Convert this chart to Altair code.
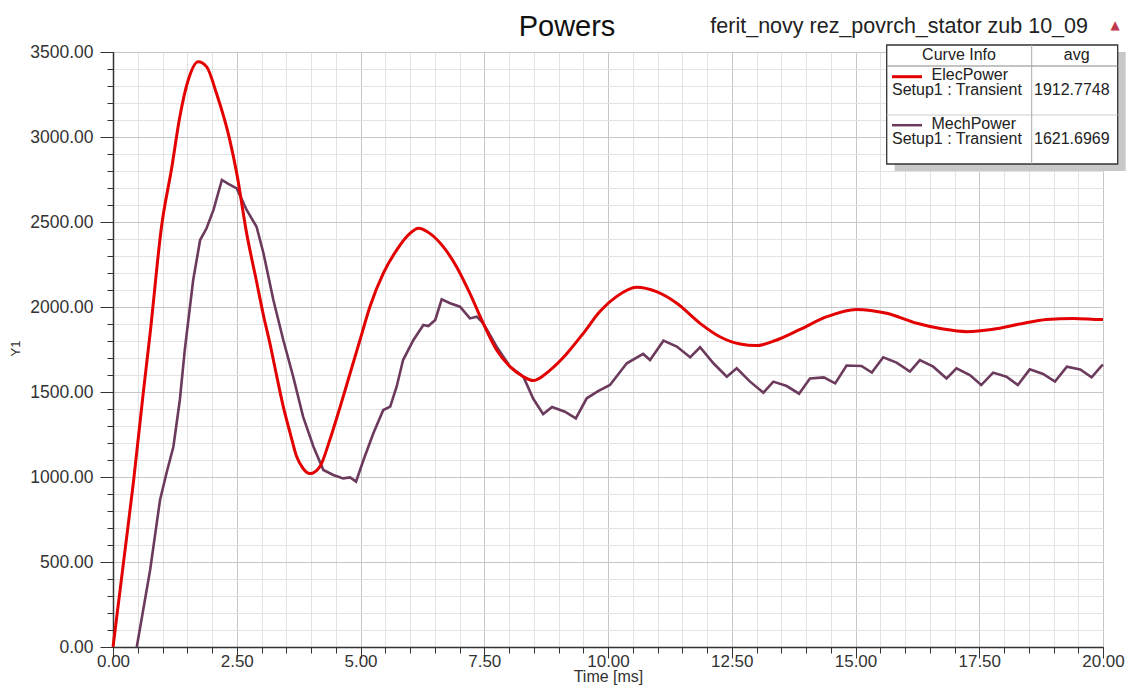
import altair as alt
import pandas as pd

# ---------------- data ----------------
elec_t = [0.0, 0.21, 0.41, 0.61, 0.75, 0.98, 1.19, 1.35, 1.52, 1.72, 1.89, 2.09, 2.36, 2.50, 2.70,
          2.90, 3.04, 3.17, 3.31, 3.44, 3.58, 3.71, 3.84, 3.98, 4.18, 4.38, 4.59, 4.79,
          4.99, 5.19, 5.46, 5.73, 6.00, 6.17, 6.40, 6.67, 6.94, 7.21, 7.48, 7.75, 8.02,
          8.29, 8.49, 8.83, 9.17, 9.50, 9.84, 10.17, 10.58, 10.98, 11.39, 11.86, 12.26,
          12.67, 13.00, 13.41, 13.88, 14.42, 15.02, 15.63, 16.24, 16.77, 17.25, 17.78,
          18.32, 18.86, 19.40, 19.97, 20.0]
elec_p = [0, 492, 963, 1492, 1845, 2472, 2825, 3119, 3335, 3443, 3414, 3257, 2982, 2786, 2433,
          2150, 1950, 1786, 1590, 1414, 1257, 1120, 1050, 1020, 1061, 1218, 1414, 1610,
          1806, 2002, 2198, 2335, 2433, 2463, 2433, 2355, 2237, 2080, 1904, 1747, 1649,
          1590, 1567, 1629, 1727, 1845, 1975, 2061, 2116, 2090, 2022, 1904, 1825,
          1782, 1773, 1806, 1868, 1943, 1986, 1963, 1904, 1870, 1855, 1869,
          1900, 1927, 1933, 1927, 1927]

mech_t = [0.48, 0.75, 0.95, 1.08, 1.22, 1.35, 1.45, 1.49, 1.62, 1.76, 1.89, 2.03, 2.20,
          2.33, 2.50, 2.70, 2.90, 3.04, 3.24, 3.44, 3.64, 3.84, 4.05, 4.25, 4.45, 4.65,
          4.79, 4.91, 5.06, 5.26, 5.46, 5.60, 5.73, 5.86, 6.07, 6.27, 6.37, 6.51, 6.64,
          6.81, 7.01, 7.21, 7.35, 7.48, 7.75, 8.02, 8.29, 8.49, 8.69, 8.87, 9.13, 9.35,
          9.57, 9.80, 10.04, 10.38, 10.71, 10.85, 11.12, 11.39, 11.66, 11.86, 12.13,
          12.40, 12.60, 12.87, 13.14, 13.34, 13.61, 13.86, 14.08, 14.36, 14.59, 14.82,
          15.12, 15.33, 15.56, 15.83, 16.10, 16.30, 16.57, 16.84, 17.04, 17.31, 17.54,
          17.78, 18.05, 18.28, 18.52, 18.79, 19.03, 19.27, 19.54, 19.77, 19.97, 20.0]
mech_p = [0, 453, 865, 1022, 1178, 1453, 1747, 1845, 2159, 2394, 2463, 2571, 2747,
          2724, 2698, 2571, 2472, 2316, 2041, 1806, 1590, 1355, 1178, 1041, 1012, 992,
          998, 973, 1100, 1257, 1394, 1414, 1531, 1688, 1806, 1894, 1888, 1924, 2045,
          2022, 2002, 1933, 1943, 1904, 1767, 1649, 1590, 1460, 1370, 1412, 1384, 1345,
          1463, 1505, 1541, 1669, 1724, 1688, 1802, 1767, 1704, 1763, 1669,
          1590, 1639, 1561, 1496, 1561, 1535, 1490, 1580, 1586, 1551, 1656,
          1653, 1614, 1704, 1673, 1620, 1688, 1649, 1580, 1639, 1600, 1541,
          1614, 1590, 1541, 1633, 1606, 1561, 1649, 1633, 1586, 1653, 1660]

series_names = ["ElecPower", "MechPower"]
series_colors = ["#e30000", "#6b3a5c"]
legend_setup = ["Setup1 : Transient", "Setup1 : Transient"]
legend_avg = ["1912.7748", "1621.6969"]

x_major = [0, 2.5, 5, 7.5, 10, 12.5, 15, 17.5, 20]
x_minor = [i * 0.5 for i in range(41)]
y_major = [0, 500, 1000, 1500, 2000, 2500, 3000, 3500]
y_minor = [i * 100 for i in range(36)]

title_text = "Powers"
subtitle_text = "ferit_novy rez_povrch_stator zub 10_09"

# ---------------- build ----------------
df_e = pd.DataFrame({"t": elec_t, "p": elec_p, "series": series_names[0]})
df_m = pd.DataFrame({"t": mech_t, "p": mech_p, "series": series_names[1]})
df_all = pd.concat([df_e, df_m], ignore_index=True)

FONT = "Liberation Sans"
xs = alt.Scale(domain=[0, 20], nice=False, zero=False, padding=0)
ys = alt.Scale(domain=[0, 3500], nice=False, padding=0)

minor_layer = alt.Chart(df_all).mark_point(opacity=0).encode(
    x=alt.X("t:Q", scale=xs, axis=alt.Axis(
        orient="bottom", values=x_minor, labels=False, domain=False, tickSize=6,
        tickColor="#333333", grid=True, gridColor="#e3e3e3", title="")),
    y=alt.Y("p:Q", scale=ys, axis=alt.Axis(
        orient="left", values=y_minor, labels=False, domain=False, tickSize=6,
        tickColor="#333333", grid=True, gridColor="#e3e3e3", title="")),
)

mech_layer = alt.Chart(df_m).mark_line(strokeWidth=2.6, color=series_colors[1]).encode(
    x=alt.X("t:Q", scale=xs, axis=alt.Axis(
        orient="bottom", values=x_major, format=".2f", tickSize=11, tickColor="#333333",
        domainColor="#333333", domainWidth=1.5, grid=True, gridColor="#c6c6c6",
        labelFont=FONT, labelFontSize=17, labelColor="#333333", labelPadding=-5,
        labelFlush=False,
        title="Time [ms]", titleFont=FONT, titleFontSize=16, titleFontWeight="normal",
        titleColor="#333333", titleBaseline="alphabetic", titleY=34)),
    y=alt.Y("p:Q", scale=ys, axis=alt.Axis(
        orient="left", values=y_major, format=".2f", tickSize=13, tickColor="#333333",
        domainColor="#333333", domainWidth=1.5, grid=True, gridColor="#c6c6c6",
        labelFont=FONT, labelFontSize=17.5, labelColor="#333333", labelPadding=7,
        labelFlush=False,
        title="Y1", titleFont=FONT, titleFontSize=13, titleFontWeight="normal",
        titleColor="#333333", titleBaseline="alphabetic", titleX=-94, titleY=296)),
)

elec_layer = alt.Chart(df_e).mark_line(strokeWidth=3, color=series_colors[0],
                                       interpolate="monotone").encode(
    x=alt.X("t:Q", scale=xs, axis=None),
    y=alt.Y("p:Q", scale=ys, axis=None),
)

one = pd.DataFrame({"k": [0]})

def txt(text, x, y, size, align="left", color="#222222", baseline="middle", font=FONT):
    return alt.Chart(one).mark_text(
        text=text, align=align, baseline=baseline, fontSize=size, font=font, color=color
    ).encode(x=alt.value(x), y=alt.value(y))

def rect(x1, x2, y1, y2, fill, stroke=None, sw=1):
    kw = dict(fill=fill)
    if stroke:
        kw.update(stroke=stroke, strokeWidth=sw)
    return alt.Chart(one).mark_rect(**kw).encode(
        x=alt.value(x1), x2=alt.value(x2), y=alt.value(y1), y2=alt.value(y2))

def rule(x1, x2, y1, y2, color, sw=1):
    return alt.Chart(one).mark_rule(color=color, strokeWidth=sw).encode(
        x=alt.value(x1), x2=alt.value(x2), y=alt.value(y1), y2=alt.value(y2))

# legend box (plot-relative pixel positions)
bx1, bx2, by1, by2 = 773.7, 1004.7, -7, 112
legend_layers = [
    rect(bx1 + 8, bx2 + 8, by1 + 7, by2 + 7, "#c8c8c8"),
    rect(bx1, bx2, by1, by2, "#ffffff", "#333333", 1.3),
    rule(bx1, bx2, 14, 14, "#888888", 1),
    rule(bx1, bx2, 63, 63, "#cccccc", 1),
    rule(918.7, 918.7, by1, by2, "#aaaaaa", 1),
    txt("Curve Info", 846, 3, 16, align="center"),
    txt("avg", 963.7, 3, 16, align="center"),
]
for i, name in enumerate(series_names):
    dy = 48.5 * i
    legend_layers += [
        rule(779, 809, 24.7 + dy, 24.7 + dy, series_colors[i], 3 if i == 0 else 2.5),
        txt(name, 818.5, 23 + dy, 16),
        txt(legend_setup[i], 779, 38 + dy, 16),
        txt(legend_avg[i], 921, 38 + dy, 16),
    ]

title_layers = [
    txt(title_text, 454, -16, 29, align="center", baseline="alphabetic", color="#111111"),
    txt(subtitle_text, 975, -19, 21.5, align="right", baseline="alphabetic", color="#222222"),
    txt("▲", 1002, -27, 12, align="center", color="#c0394b", font="DejaVu Sans"),
]

chart = alt.layer(
    minor_layer, mech_layer, elec_layer, *legend_layers, *title_layers
).resolve_axis(
    x="independent", y="independent"
).properties(
    width=990, height=595,
    autosize=alt.AutoSizeParams(type="none"),
    padding={"left": 105, "top": 44, "right": 23, "bottom": 38},
).configure_view(
    stroke="#333333", strokeWidth=1.5
).configure(background="#ffffff")

chart.save("out.html", embed_options={"renderer": "svg", "actions": False})
